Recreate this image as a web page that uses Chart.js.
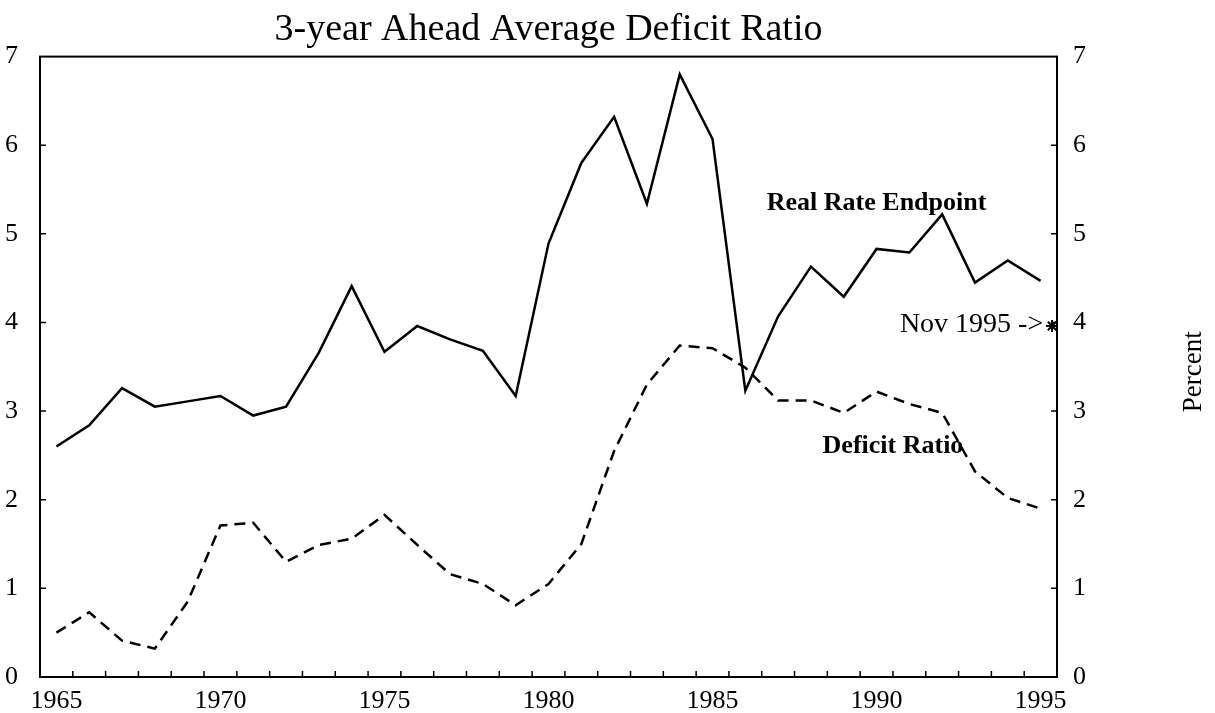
<!DOCTYPE html>
<html>
<head>
<meta charset="utf-8">
<script src="https://cdn.jsdelivr.net/npm/chart.js@4/dist/chart.umd.min.js"></script>
<style>
  html, body { margin: 0; padding: 0; background: #fff; }
  canvas { display: block; }
</style>
</head>
<body>
<canvas id="grafico" width="1215" height="713"></canvas>
<script>
// datos
const years = [1965, 1966, 1967, 1968, 1969, 1970, 1971, 1972, 1973, 1974,
               1975, 1976, 1977, 1978, 1979, 1980, 1981, 1982, 1983, 1984,
               1985, 1986, 1987, 1988, 1989, 1990, 1991, 1992, 1993, 1994, 1995];
const realRate = [2.60, 2.84, 3.26, 3.05, 3.11, 3.17, 2.95, 3.05, 3.66, 4.41,
                  3.67, 3.96, 3.81, 3.68, 3.17, 4.89, 5.80, 6.32, 5.34, 6.80,
                  6.07, 3.23, 4.07, 4.63, 4.29, 4.83, 4.79, 5.22, 4.45, 4.70, 4.47];
const deficitRatio = [0.50, 0.73, 0.41, 0.32, 0.85, 1.71, 1.74, 1.30, 1.49, 1.56,
                      1.83, 1.49, 1.16, 1.05, 0.81, 1.05, 1.50, 2.55, 3.30, 3.74,
                      3.71, 3.49, 3.12, 3.12, 2.98, 3.22, 3.08, 2.98, 2.32, 2.02, 1.90];
const xLabelYears = [1965, 1970, 1975, 1980, 1985, 1990, 1995];
const yTicks = [0, 1, 2, 3, 4, 5, 6, 7];
const nov1995 = { x: 1995.35, y: 3.96 };

const serif = "'Liberation Serif', 'Times New Roman', serif";

// marcas hacia dentro, marco, textos
const extras = {
    id: 'extras',
    afterDraw(chart) {
        const ctx = chart.ctx;
        const area = chart.chartArea;
        const sx = chart.scales.x;
        const sy = chart.scales.y;
        ctx.save();
        ctx.strokeStyle = '#000';
        ctx.lineWidth = 2;
        ctx.strokeRect(area.left, area.top, area.right - area.left, area.bottom - area.top);

        ctx.lineWidth = 1.5;
        ctx.beginPath();
        for (let i = 0; i < years.length - 1; i++) {
            const px = sx.getPixelForValue(years[i] + 0.5);
            ctx.moveTo(px, area.bottom);
            ctx.lineTo(px, area.bottom - 6);
        }
        yTicks.slice(1, -1).forEach(v => {
            const py = sy.getPixelForValue(v);
            ctx.moveTo(area.left, py);
            ctx.lineTo(area.left + 6, py);
            ctx.moveTo(area.right, py);
            ctx.lineTo(area.right - 6, py);
        });
        ctx.stroke();

        ctx.fillStyle = '#000';
        ctx.textBaseline = 'middle';
        ctx.textAlign = 'center';
        ctx.font = 'bold 26px ' + serif;
        ctx.fillText('Real Rate Endpoint', sx.getPixelForValue(1990.0), sy.getPixelForValue(5.35));
        ctx.fillText('Deficit Ratio', sx.getPixelForValue(1990.5), sy.getPixelForValue(2.60));
        ctx.textAlign = 'right';
        ctx.font = '28px ' + serif;
        ctx.fillText('Nov 1995 ->', sx.getPixelForValue(1995.08), sy.getPixelForValue(3.98));

        ctx.translate(chart.width - 21, (area.top + area.bottom) / 2 + 5);
        ctx.rotate(-Math.PI / 2);
        ctx.textAlign = 'center';
        ctx.font = '27px ' + serif;
        ctx.fillText('Percent', 0, 0);
        ctx.restore();
    }
};

const tickFont = { family: serif, size: 26 };

new Chart(document.getElementById('grafico'), {
    type: 'line',
    data: {
        datasets: [{
            label: 'Real Rate Endpoint',
            data: years.map((y, i) => ({ x: y, y: realRate[i] })),
            borderColor: '#000',
            borderWidth: 2.5,
            pointRadius: 0,
            tension: 0,
            yAxisID: 'y'
        }, {
            label: 'Deficit Ratio',
            data: years.map((y, i) => ({ x: y, y: deficitRatio[i] })),
            borderColor: '#000',
            borderWidth: 2.5,
            borderDash: [11, 7],
            pointRadius: 0,
            tension: 0,
            yAxisID: 'y'
        }, {
            label: 'Nov 1995',
            type: 'scatter',
            data: [nov1995],
            pointStyle: 'star',
            pointRadius: 6,
            borderColor: '#000',
            borderWidth: 2,
            yAxisID: 'y'
        }]
    },
    options: {
        responsive: false,
        animation: false,
        devicePixelRatio: 1,
        layout: { padding: 0 },
        plugins: {
            legend: { display: false },
            tooltip: { enabled: false },
            title: {
                display: true,
                fullSize: false,
                text: '3-year Ahead Average Deficit Ratio',
                color: '#000',
                font: { family: serif, size: 38, weight: 'normal' },
                padding: { top: 7, bottom: 4 }
            }
        },
        scales: {
            x: {
                type: 'linear',
                position: 'bottom',
                min: 1964.5,
                max: 1995.5,
                afterBuildTicks: s => { s.ticks = xLabelYears.map(v => ({ value: v })); },
                afterFit: s => { s.height = 36; },
                ticks: {
                    color: '#000', font: tickFont, padding: 1,
                    maxRotation: 0, autoSkip: false,
                    callback: v => String(v)
                },
                grid: { display: false },
                border: { display: false }
            },
            y: {
                position: 'left',
                min: 0,
                max: 7,
                afterBuildTicks: s => { s.ticks = yTicks.map(v => ({ value: v })); },
                afterFit: s => { s.width = 40; },
                ticks: { color: '#000', font: tickFont, padding: 14 },
                grid: { display: false },
                border: { display: false }
            },
            y2: {
                position: 'right',
                min: 0,
                max: 7,
                afterBuildTicks: s => { s.ticks = yTicks.map(v => ({ value: v })); },
                afterFit: s => { s.width = 158; },
                ticks: { color: '#000', font: tickFont, padding: 8 },
                grid: { display: false },
                border: { display: false }
            }
        }
    },
    plugins: [extras]
});
</script>
</body>
</html>
